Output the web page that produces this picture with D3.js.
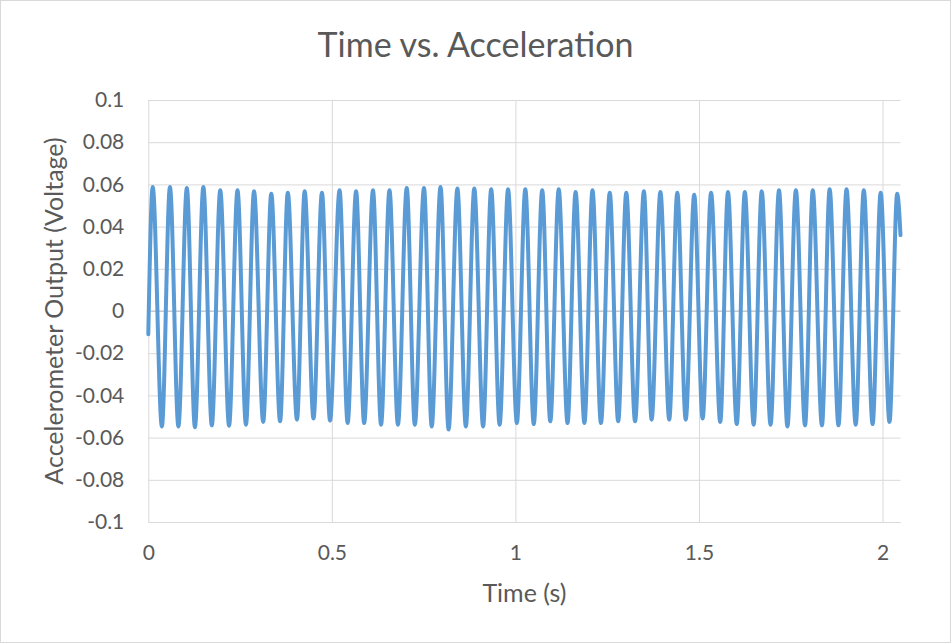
<!DOCTYPE html>
<html>
<head>
<meta charset="utf-8">
<script src="https://cdn.jsdelivr.net/npm/d3@7"></script>
<style>
  body { margin: 0; background: #fff; }
  text { font-family: Lato, "Open Sans", sans-serif; fill: #595959; }
</style>
</head>
<body>
<svg id="misvg"></svg>
<script>
// peaks and troughs (seconds, volts)
const peakTime = [0.012,0.059,0.105,0.150,0.196,0.243,0.288,0.335,0.380,0.426,
  0.473,0.521,0.566,0.612,0.657,0.704,0.751,0.796,0.842,0.888,
  0.934,0.980,1.027,1.073,1.118,1.164,1.210,1.257,1.302,1.350,
  1.395,1.441,1.487,1.533,1.579,1.625,1.671,1.718,1.764,1.810,
  1.856,1.902,1.949,1.995,2.040];
const peakVolt = [0.0588,0.0588,0.0583,0.0588,0.0572,0.0572,0.0567,0.0556,0.0561,0.0567,
  0.0561,0.0572,0.0567,0.0572,0.0572,0.0583,0.0583,0.0588,0.0580,0.0580,
  0.0577,0.0577,0.0577,0.0572,0.0577,0.0564,0.0572,0.0561,0.0561,0.0567,
  0.0564,0.0561,0.0551,0.0561,0.0564,0.0564,0.0567,0.0572,0.0572,0.0572,
  0.0577,0.0577,0.0572,0.0561,0.0556];
const troughTime = [0.037,0.082,0.127,0.173,0.220,0.266,0.313,0.359,0.405,0.450,
  0.495,0.543,0.588,0.634,0.680,0.726,0.772,0.818,0.865,0.912,
  0.957,1.004,1.050,1.095,1.142,1.188,1.233,1.280,1.326,1.371,
  1.419,1.464,1.510,1.558,1.603,1.649,1.695,1.741,1.789,1.835,
  1.880,1.927,1.973,2.019];
const troughVolt = [-0.0547,-0.0547,-0.0551,-0.0542,-0.0544,-0.0539,-0.0526,-0.0523,-0.0515,-0.0510,
  -0.0520,-0.0531,-0.0531,-0.0539,-0.0539,-0.0539,-0.0547,-0.0562,-0.0547,-0.0547,
  -0.0539,-0.0531,-0.0536,-0.0523,-0.0531,-0.0531,-0.0531,-0.0523,-0.0523,-0.0515,
  -0.0515,-0.0515,-0.0510,-0.0526,-0.0536,-0.0539,-0.0539,-0.0547,-0.0542,-0.0542,
  -0.0542,-0.0539,-0.0536,-0.0526];
// first and last samples
const edgeTime = [0, 2.049];
const edgeVolt = [-0.011, 0.036];

const xTicks = [0, 0.5, 1, 1.5, 2];
const xTickLabels = ["0", "0.5", "1", "1.5", "2"];
const yTicks = [-0.1,-0.08,-0.06,-0.04,-0.02,0,0.02,0.04,0.06,0.08,0.1];
const yTickLabels = ["-0.1","-0.08","-0.06","-0.04","-0.02","0","0.02","0.04","0.06","0.08","0.1"];

const W = 951, H = 644;
const margin = { top: 100, right: 50.5, bottom: 122, left: 148.3 };
const width = W - margin.left - margin.right;
const height = H - margin.top - margin.bottom;

const data = [];
edgeTime.forEach((t, i) => data.push({ t: t, v: edgeVolt[i] }));
peakTime.forEach((t, i) => data.push({ t: t, v: peakVolt[i] }));
troughTime.forEach((t, i) => data.push({ t: t, v: troughVolt[i] }));
data.sort((a, b) => a.t - b.t);

const svg = d3.select("#misvg")
  .attr("width", W)
  .attr("height", H);

svg.append("rect")
  .attr("x", 0.5).attr("y", 0.5)
  .attr("width", W - 1).attr("height", H - 2)
  .attr("fill", "#fff")
  .attr("stroke", "#d9d9d9");

const g = svg.append("g")
  .attr("transform", "translate(" + margin.left + "," + margin.top + ")");

const x = d3.scaleLinear().domain([0, 2.049]).range([0, width]);
const y = d3.scaleLinear().domain([-0.1, 0.1]).range([height, 0]);

// horizontal gridlines + y labels
const yAxis = g.append("g")
  .call(d3.axisLeft(y).tickValues(yTicks).tickSize(-width)
    .tickFormat((d, i) => yTickLabels[i]).tickPadding(24));
yAxis.select(".domain").remove();
yAxis.selectAll("line").attr("stroke", "#d9d9d9");
yAxis.selectAll("text").style("font-size", "21px").attr("fill", "#595959");

// vertical gridlines + x labels
const xAxis = g.append("g")
  .attr("transform", "translate(0," + height + ")")
  .call(d3.axisBottom(x).tickValues(xTicks).tickSize(-height)
    .tickFormat((d, i) => xTickLabels[i]).tickPadding(23));
xAxis.select(".domain").remove();
xAxis.selectAll("line").attr("stroke", "#d9d9d9");
xAxis.selectAll("text").style("font-size", "21px").attr("fill", "#595959");

// bottom edge and zero axis line
g.append("line")
  .attr("x1", 0).attr("x2", width)
  .attr("y1", height + 0.5).attr("y2", height + 0.5)
  .attr("stroke", "#d9d9d9");
g.append("line")
  .attr("x1", 0).attr("x2", width)
  .attr("y1", y(0)).attr("y2", y(0))
  .attr("stroke", "#bfbfbf");

const line = d3.line()
  .x(d => x(d.t))
  .y(d => y(d.v))
  .curve(d3.curveMonotoneX);

g.append("path")
  .datum(data)
  .attr("d", line)
  .attr("fill", "none")
  .attr("stroke", "#5b9bd5")
  .attr("stroke-width", 4)
  .attr("stroke-linejoin", "round")
  .attr("stroke-linecap", "round");

svg.append("text")
  .attr("x", W / 2).attr("y", 57)
  .attr("text-anchor", "middle")
  .style("font-size", "34px")
  .text("Time vs. Acceleration");

svg.append("text")
  .attr("x", margin.left + width / 2).attr("y", 602)
  .attr("text-anchor", "middle")
  .style("font-size", "25px")
  .text("Time (s)");

svg.append("text")
  .attr("transform", "translate(63," + (margin.top + height / 2) + ") rotate(-90)")
  .attr("text-anchor", "middle")
  .style("font-size", "25px")
  .text("Accelerometer Output (Voltage)");
</script>
</body>
</html>
